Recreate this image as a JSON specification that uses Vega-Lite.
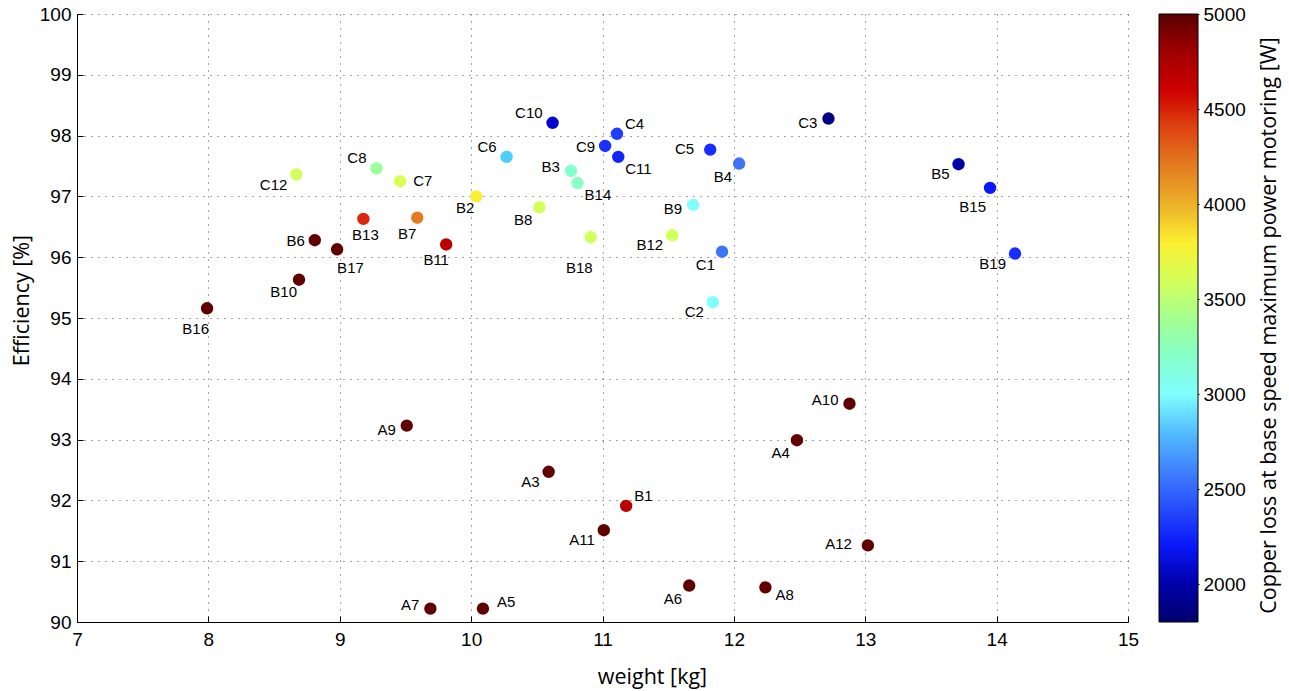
{
  "$schema": "https://vega.github.io/schema/vega-lite/v6.json",
  "width": 1051,
  "height": 608,
  "autosize": {"type": "none"},
  "padding": {"left": 77, "top": 14, "right": 161, "bottom": 69},
  "background": "white",
  "data": {
    "values": [
      {"name": "A3", "weight": 10.59, "efficiency": 92.47, "loss": 4980},
      {"name": "A4", "weight": 12.48, "efficiency": 92.99, "loss": 4980},
      {"name": "A5", "weight": 10.09, "efficiency": 90.22, "loss": 4980},
      {"name": "A6", "weight": 11.66, "efficiency": 90.6, "loss": 4980},
      {"name": "A7", "weight": 9.69, "efficiency": 90.22, "loss": 4980},
      {"name": "A8", "weight": 12.24, "efficiency": 90.57, "loss": 4980},
      {"name": "A9", "weight": 9.51, "efficiency": 93.23, "loss": 4980},
      {"name": "A10", "weight": 12.88, "efficiency": 93.59, "loss": 4980},
      {"name": "A11", "weight": 11.01, "efficiency": 91.51, "loss": 4980},
      {"name": "A12", "weight": 13.02, "efficiency": 91.26, "loss": 4980},
      {"name": "B1", "weight": 11.18, "efficiency": 91.91, "loss": 4680},
      {"name": "B2", "weight": 10.04, "efficiency": 97.0, "loss": 3800},
      {"name": "B3", "weight": 10.76, "efficiency": 97.42, "loss": 3180},
      {"name": "B4", "weight": 12.04, "efficiency": 97.54, "loss": 2550},
      {"name": "B5", "weight": 13.71, "efficiency": 97.53, "loss": 2000},
      {"name": "B6", "weight": 8.81, "efficiency": 96.28, "loss": 4980},
      {"name": "B7", "weight": 9.59, "efficiency": 96.65, "loss": 4200},
      {"name": "B8", "weight": 10.52, "efficiency": 96.82, "loss": 3600},
      {"name": "B9", "weight": 11.69, "efficiency": 96.86, "loss": 3000},
      {"name": "B10", "weight": 8.69, "efficiency": 95.63, "loss": 4980},
      {"name": "B11", "weight": 9.81, "efficiency": 96.21, "loss": 4680},
      {"name": "B12", "weight": 11.53, "efficiency": 96.36, "loss": 3590},
      {"name": "B13", "weight": 9.18, "efficiency": 96.63, "loss": 4480},
      {"name": "B14", "weight": 10.81, "efficiency": 97.22, "loss": 3220},
      {"name": "B15", "weight": 13.95, "efficiency": 97.14, "loss": 2200},
      {"name": "B16", "weight": 7.99, "efficiency": 95.16, "loss": 4980},
      {"name": "B17", "weight": 8.98, "efficiency": 96.13, "loss": 4980},
      {"name": "B18", "weight": 10.91, "efficiency": 96.33, "loss": 3590},
      {"name": "B19", "weight": 14.14, "efficiency": 96.06, "loss": 2280},
      {"name": "C1", "weight": 11.91, "efficiency": 96.09, "loss": 2550},
      {"name": "C2", "weight": 11.84, "efficiency": 95.26, "loss": 3000},
      {"name": "C3", "weight": 12.72, "efficiency": 98.28, "loss": 1880},
      {"name": "C4", "weight": 11.11, "efficiency": 98.03, "loss": 2350},
      {"name": "C5", "weight": 11.82, "efficiency": 97.77, "loss": 2280},
      {"name": "C6", "weight": 10.27, "efficiency": 97.65, "loss": 2850},
      {"name": "C7", "weight": 9.46, "efficiency": 97.25, "loss": 3620},
      {"name": "C8", "weight": 9.28, "efficiency": 97.46, "loss": 3350},
      {"name": "C9", "weight": 11.02, "efficiency": 97.83, "loss": 2300},
      {"name": "C10", "weight": 10.62, "efficiency": 98.21, "loss": 2080},
      {"name": "C11", "weight": 11.12, "efficiency": 97.65, "loss": 2250},
      {"name": "C12", "weight": 8.67, "efficiency": 97.36, "loss": 3590}
    ]
  },
  "encoding": {
    "x": {
      "field": "weight",
      "type": "quantitative",
      "scale": {"domain": [7, 15], "nice": false, "zero": false},
      "axis": {
        "values": [7, 8, 9, 10, 11, 12, 13, 14, 15],
        "title": "weight [kg]",
        "titleX": 575,
        "titlePadding": 17,
        "grid": true,
        "tickSize": -6,
        "labelPadding": 14,
        "labelFlush": false,
        "labelOverlap": false
      }
    },
    "y": {
      "field": "efficiency",
      "type": "quantitative",
      "scale": {"domain": [90, 100], "nice": false, "zero": false},
      "axis": {
        "values": [90, 91, 92, 93, 94, 95, 96, 97, 98, 99, 100],
        "title": "Efficiency [%]",
        "titleY": 286,
        "titlePadding": 6,
        "grid": true,
        "tickSize": -6,
        "labelPadding": 12,
        "labelFlush": false,
        "labelOverlap": false
      }
    }
  },
  "layer": [
    {
      "layer": [
        {
          "mark": {"type": "circle", "size": 154, "opacity": 1},
          "encoding": {
            "color": {
              "field": "loss",
              "type": "quantitative",
              "scale": {
                "domain": [1800, 1950, 2150, 2300, 2500, 2750, 3000, 3250, 3500, 3750, 3900, 4050, 4250, 4450, 4550, 4800, 5000],
                "range": ["#00006E", "#000090", "#0000F5", "#1A30FF", "#3C64F5", "#64AAFF", "#80FFFF", "#90FFB8", "#BBFF70", "#FFFF33", "#F2D030", "#E8A028", "#E07020", "#DC3010", "#D80000", "#A00000", "#5A0000"],
                "clamp": true
              },
              "legend": {
                "orient": "none",
                "legendX": 1082,
                "legendY": 0,
                "direction": "vertical",
                "title": null,
                "gradientLength": 608,
                "gradientThickness": 39,
                "gradientStrokeColor": "black",
                "gradientStrokeWidth": 1,
                "labelExpr": "''",
                "padding": 0
              }
            }
          }
        },
        {
          "transform": [{"filter": {"field": "name", "oneOf": ["B3", "A10", "A7"]}}],
          "mark": {"type": "text", "align": "right", "baseline": "middle", "dx": -11, "dy": -4},
          "encoding": {"text": {"field": "name"}}
        },
        {
          "transform": [{"filter": {"field": "name", "oneOf": ["C9", "B6"]}}],
          "mark": {"type": "text", "align": "right", "baseline": "middle", "dx": -10, "dy": 1},
          "encoding": {"text": {"field": "name"}}
        },
        {
          "transform": [{"filter": {"field": "name", "oneOf": ["C5", "A12"]}}],
          "mark": {"type": "text", "align": "right", "baseline": "middle", "dx": -16, "dy": -1},
          "encoding": {"text": {"field": "name"}}
        },
        {
          "transform": [{"filter": {"field": "name", "oneOf": ["C3", "B9", "A9"]}}],
          "mark": {"type": "text", "align": "right", "baseline": "middle", "dx": -11, "dy": 4},
          "encoding": {"text": {"field": "name"}}
        },
        {
          "transform": [{"filter": {"field": "name", "oneOf": ["C8", "C6", "C10"]}}],
          "mark": {"type": "text", "align": "right", "baseline": "middle", "dx": -10, "dy": -10},
          "encoding": {"text": {"field": "name"}}
        },
        {
          "transform": [{"filter": {"field": "name", "oneOf": ["C12", "B12", "C2", "A3", "A11", "B5", "B19"]}}],
          "mark": {"type": "text", "align": "right", "baseline": "middle", "dx": -9, "dy": 10},
          "encoding": {"text": {"field": "name"}}
        },
        {
          "transform": [{"filter": {"field": "name", "oneOf": ["B8", "B4", "A6", "C1", "A4"]}}],
          "mark": {"type": "text", "align": "right", "baseline": "middle", "dx": -7, "dy": 13},
          "encoding": {"text": {"field": "name"}}
        },
        {
          "transform": [{"filter": {"field": "name", "oneOf": ["B10", "B2"]}}],
          "mark": {"type": "text", "align": "right", "baseline": "middle", "dx": -2, "dy": 12},
          "encoding": {"text": {"field": "name"}}
        },
        {
          "transform": [{"filter": {"field": "name", "oneOf": ["B15"]}}],
          "mark": {"type": "text", "align": "right", "baseline": "middle", "dx": -4, "dy": 19},
          "encoding": {"text": {"field": "name"}}
        },
        {
          "transform": [{"filter": {"field": "name", "oneOf": ["B16"]}}],
          "mark": {"type": "text", "align": "right", "baseline": "middle", "dx": 2, "dy": 21},
          "encoding": {"text": {"field": "name"}}
        },
        {
          "transform": [{"filter": {"field": "name", "oneOf": ["B18"]}}],
          "mark": {"type": "text", "align": "right", "baseline": "middle", "dx": 2, "dy": 31},
          "encoding": {"text": {"field": "name"}}
        },
        {
          "transform": [{"filter": {"field": "name", "oneOf": ["B7", "B11"]}}],
          "mark": {"type": "text", "align": "center", "baseline": "middle", "dx": -10, "dy": 16},
          "encoding": {"text": {"field": "name"}}
        },
        {
          "transform": [{"filter": {"field": "name", "oneOf": ["B13"]}}],
          "mark": {"type": "text", "align": "center", "baseline": "middle", "dx": 2, "dy": 16},
          "encoding": {"text": {"field": "name"}}
        },
        {
          "transform": [{"filter": {"field": "name", "oneOf": ["B17"]}}],
          "mark": {"type": "text", "align": "left", "baseline": "middle", "dx": 0, "dy": 19},
          "encoding": {"text": {"field": "name"}}
        },
        {
          "transform": [{"filter": {"field": "name", "oneOf": ["B14", "C11"]}}],
          "mark": {"type": "text", "align": "left", "baseline": "middle", "dx": 7, "dy": 12},
          "encoding": {"text": {"field": "name"}}
        },
        {
          "transform": [{"filter": {"field": "name", "oneOf": ["C4", "B1"]}}],
          "mark": {"type": "text", "align": "left", "baseline": "middle", "dx": 8, "dy": -10},
          "encoding": {"text": {"field": "name"}}
        },
        {
          "transform": [{"filter": {"field": "name", "oneOf": ["C7"]}}],
          "mark": {"type": "text", "align": "left", "baseline": "middle", "dx": 13, "dy": 0},
          "encoding": {"text": {"field": "name"}}
        },
        {
          "transform": [{"filter": {"field": "name", "oneOf": ["A8"]}}],
          "mark": {"type": "text", "align": "left", "baseline": "middle", "dx": 10, "dy": 8},
          "encoding": {"text": {"field": "name"}}
        },
        {
          "transform": [{"filter": {"field": "name", "oneOf": ["A5"]}}],
          "mark": {"type": "text", "align": "left", "baseline": "middle", "dx": 14, "dy": -7},
          "encoding": {"text": {"field": "name"}}
        }
      ]
    },
    {
      "mark": {"type": "point", "opacity": 0},
      "encoding": {
        "y": {
          "field": "loss",
          "type": "quantitative",
          "scale": {"domain": [1800, 5000], "nice": false, "zero": false},
          "axis": {
            "orient": "right",
            "offset": 71,
            "values": [2000, 2500, 3000, 3500, 4000, 4500, 5000],
            "format": "d",
            "grid": false,
            "domain": false,
            "tickSize": -6,
            "labelPadding": 10,
            "labelFlush": false,
            "labelOverlap": false,
            "title": "Copper loss at base speed maximum power motoring  [W]",
            "titleAngle": 270,
            "titleBaseline": "top",
            "titleY": 311,
            "titlePadding": 13
          }
        }
      }
    }
  ],
  "resolve": {"scale": {"y": "independent"}, "axis": {"y": "independent"}},
  "config": {
    "view": {"stroke": null},
    "axis": {
      "labelFont": "Arial",
      "labelFontSize": 19,
      "labelColor": "black",
      "titleFont": "Open Sans",
      "titleFontSize": 21.5,
      "titleFontWeight": "normal",
      "titleColor": "black",
      "domainColor": "black",
      "domainWidth": 1,
      "tickColor": "black",
      "gridColor": "#444444",
      "gridDash": [1, 6],
      "gridWidth": 1,
      "gridOpacity": 1
    },
    "text": {"font": "Arial", "fontSize": 15, "color": "black"}
  }
}
